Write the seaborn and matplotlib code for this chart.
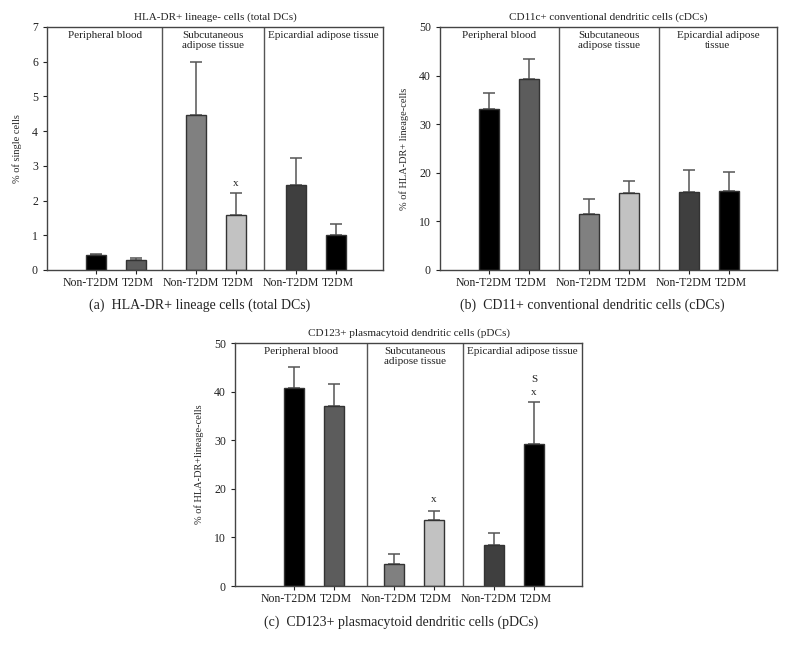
import numpy as np
import pandas as pd
import seaborn as sns
import matplotlib.pyplot as plt

# bar layout: two bars per tissue, tissues spaced 1.5 units apart
positions = [0, 1, 2.5, 3.5, 5, 6]
groups = ["Non-T2DM", "T2DM", "Non-T2DM", "T2DM", "Non-T2DM", "T2DM"]
bar_ids = ["pb_non", "pb_t2", "sat_non", "sat_t2", "eat_non", "eat_t2"]
bar_colors = ["#000000", "#5c5c5c", "#808080", "#c2c2c2", "#3f3f3f", "#000000"]

# (a) HLA-DR+ lineage- cells
total_mean = [0.42, 0.30, 4.45, 1.57, 2.45, 1.00]
total_err = [0.47, 0.34, 6.00, 2.22, 3.23, 1.32]
# (b) CD11c+ cDCs
cdc_mean = [33.2, 39.3, 11.5, 15.8, 16.0, 16.2]
cdc_err = [36.4, 43.5, 14.7, 18.4, 20.5, 20.1]
# (c) CD123+ pDCs
pdc_mean = [40.7, 37.0, 4.6, 13.5, 8.5, 29.3]
pdc_err = [45.1, 41.6, 6.5, 15.5, 11.0, 37.9]

sns.set_style("white")
plt.rcParams["font.family"] = ["Liberation Serif", "DejaVu Serif"]
plt.rcParams["text.color"] = "#222222"
plt.rcParams["xtick.color"] = "#222222"
plt.rcParams["ytick.color"] = "#222222"

fig = plt.figure(figsize=(7.86, 6.51), dpi=100)

panels = [
    dict(rect=[0.0598, 0.5853, 0.4275, 0.3733], mean=total_mean, err=total_err,
         ymax=7, yticks=range(0, 8), xlim=(-1.225, 7.175), divs=(1.66, 4.21),
         title="HLA-DR+ lineage- cells (total DCs)", ylabel="% of single cells",
         sections=["Peripheral blood", "Subcutaneous\nadipose tissue", "Epicardial adipose tissue"],
         sec_y=6.88, marks=[(3, "x", 2.5)],
         caption="(a)  HLA-DR+ lineage cells (total DCs)", cap_xy=(0.254, 0.531)),
    dict(rect=[0.5598, 0.5853, 0.4288, 0.3733], mean=cdc_mean, err=cdc_err,
         ymax=50, yticks=range(0, 51, 10), xlim=(-1.225, 7.2), divs=(1.75, 4.25),
         title="CD11c+ conventional dendritic cells (cDCs)", ylabel="% of HLA-DR+ lineage-cells",
         sections=["Peripheral blood", "Subcutaneous\nadipose tissue", "Epicardial adipose\ntissue"],
         sec_y=49.1, marks=[],
         caption="(b)  CD11+ conventional dendritic cells (cDCs)", cap_xy=(0.753, 0.531)),
    dict(rect=[0.299, 0.0998, 0.4415, 0.3733], mean=pdc_mean, err=pdc_err,
         ymax=50, yticks=range(0, 51, 10), xlim=(-1.475, 7.2), divs=(1.825, 4.225),
         title="CD123+ plasmacytoid dendritic cells (pDCs)", ylabel="% of HLA-DR+lineage-cells",
         sections=["Peripheral blood", "Subcutaneous\nadipose tissue", "Epicardial adipose tissue"],
         sec_y=49.1, marks=[(3, "x", 17.8), (5, "x", 39.9), (5, "S", 42.5)],
         caption="(c)  CD123+ plasmacytoid dendritic cells (pDCs)", cap_xy=(0.510, 0.0445)),
]

for p in panels:
    ax = fig.add_axes(p["rect"])
    df = pd.DataFrame({"pos": positions, "value": p["mean"], "bar": bar_ids})
    sns.barplot(data=df, x="pos", y="value", hue="bar", palette=dict(zip(bar_ids, bar_colors)),
                native_scale=True, dodge=False, width=0.5, legend=False,
                edgecolor="#333333", linewidth=1, ax=ax, zorder=2)
    upper = np.array(p["err"]) - np.array(p["mean"])
    ax.errorbar(positions, p["mean"], yerr=[np.zeros(6), upper], fmt="none",
                ecolor="#555555", elinewidth=1.1, capsize=4, capthick=1.1, zorder=1)

    ax.set_xlim(*p["xlim"])
    ax.set_ylim(0, p["ymax"])
    ax.set_yticks(list(p["yticks"]))
    ax.set_xticks(positions)
    ax.set_xticklabels([])
    # group labels drawn by hand so Non-T2DM / T2DM can be nudged apart like the original
    for x, g in zip(positions, groups):
        dx = -3.6 if g == "Non-T2DM" else 1.4
        ax.annotate(g, (x, 0), xycoords=("data", "axes fraction"), xytext=(dx, -5),
                    textcoords="offset points", ha="center", va="top", fontsize=8.5,
                    annotation_clip=False)
    ax.tick_params(axis="y", labelsize=8.5, length=3, width=0.8, direction="out", left=True)
    ax.tick_params(axis="x", length=3, width=0.8, direction="out", bottom=True)
    ax.set_xlabel("")
    ax.set_ylabel(p["ylabel"], fontsize=7.5, labelpad=7)
    ax.set_title(p["title"], fontsize=8, pad=5)
    for s in ax.spines.values():
        s.set_visible(True)
        s.set_color("#444444")
        s.set_linewidth(1)

    edges = [p["xlim"][0], p["divs"][0], p["divs"][1], p["xlim"][1]]
    for d in p["divs"]:
        ax.axvline(d, color="#555555", lw=1)
    for i, name in enumerate(p["sections"]):
        ax.text((edges[i] + edges[i + 1]) / 2, p["sec_y"], name, ha="center", va="top",
                fontsize=8, linespacing=1.1)
    for idx, s, yv in p["marks"]:
        ax.text(positions[idx], yv, s, ha="center", va="center", fontsize=8)

    fig.text(p["cap_xy"][0], p["cap_xy"][1], p["caption"], ha="center", va="center", fontsize=10)

fig.savefig("out.png", dpi=100)
